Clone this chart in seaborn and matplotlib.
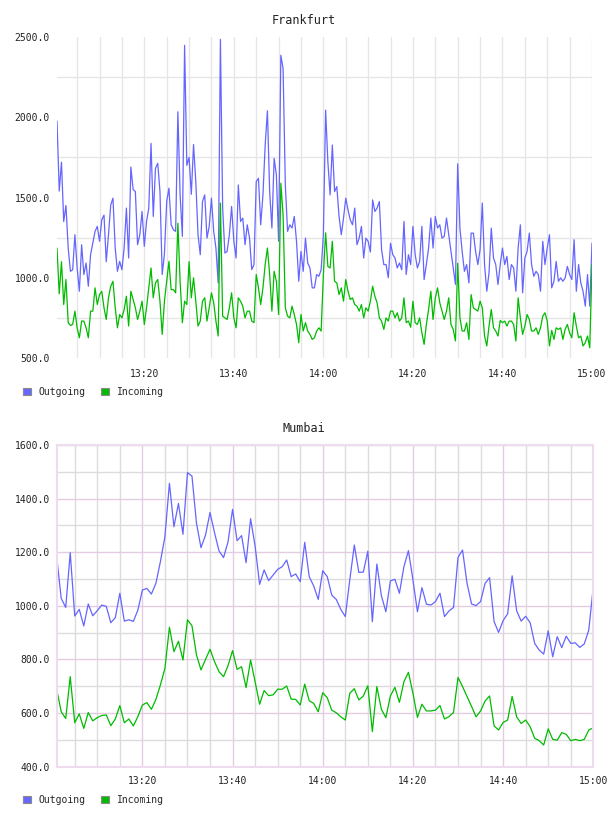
import pandas as pd
import seaborn as sns
import matplotlib.pyplot as plt
import matplotlib.dates as mdates
from matplotlib.ticker import MultipleLocator, FixedLocator, FormatStrFormatter
from matplotlib.patches import Patch

# Frankfurt: 30 s samples, 13:00:30 .. 15:00:00
fra_outgoing = [
    1976, 1540, 1720, 1350, 1450, 1185, 1040, 1050, 1268, 1061,
    916, 1206, 1020, 1092, 947, 1144, 1216, 1289, 1320, 1227,
    1361, 1390, 1100, 1268, 1454, 1496, 1185, 1040, 1102, 1050,
    1185, 1434, 1123, 1690, 1550, 1537, 1206, 1268, 1413, 1196,
    1351, 1434, 1837, 1382, 1682, 1713, 1537, 1020, 1150, 1475,
    1558, 1330, 1299, 1289, 2034, 1516, 1258, 2448, 1700, 1750,
    1520, 1830, 1599, 1268, 1144, 1475, 1516, 1247, 1320, 1496,
    1289, 1185, 968, 2485, 1434, 1154, 1164, 1268, 1444, 1227,
    1123, 1578, 1351, 1372, 1206, 1330, 1247, 1051, 1082, 1599,
    1620, 1330, 1516, 1827, 2040, 1537, 1310, 1744, 1641, 1227,
    2386, 2303, 1578, 1289, 1330, 1310, 1382, 1227, 978, 1164,
    1040, 1247, 1092, 1061, 937, 937, 1020, 1009, 1050, 1268,
    2044, 1723, 1516, 1827, 1537, 1568, 1382, 1268, 1372, 1496,
    1423, 1361, 1330, 1434, 1206, 1247, 1320, 1123, 1247, 1227,
    1160, 1485, 1413, 1434, 1475, 1175, 1082, 1082, 1000, 1215,
    1144, 1123, 1061, 1092, 1050, 1351, 1020, 1144, 1082, 1320,
    1144, 1061, 1102, 1320, 989, 1082, 1185, 1372, 1185, 1382,
    1310, 1330, 1247, 1258, 1372, 1268, 1164, 1061, 958, 1710,
    1309, 1164, 1040, 1082, 968, 1278, 1278, 1164, 1082, 1175,
    1465, 1082, 916, 1030, 1309, 1123, 1082, 958, 1082, 1185,
    1082, 1133, 989, 1082, 1061, 916, 1185, 1330, 906, 1123,
    1164, 1278, 1082, 1009, 1040, 1020, 916, 1227, 1082, 1185,
    1268, 937, 978, 1102, 978, 999, 978, 999, 1071, 1020,
    989, 1237, 916, 1082, 968, 916, 823, 1020, 823, 1216,
]
fra_incoming = [
    1185, 900, 1100, 833, 989, 720, 703, 709, 792, 688,
    626, 730, 730, 688, 626, 792, 792, 937, 833, 895,
    916, 813, 740, 875, 947, 978, 813, 688, 771, 750,
    802, 885, 699, 916, 864, 813, 740, 792, 854, 709,
    813, 937, 1061, 875, 968, 989, 854, 647, 854, 978,
    1102, 926, 926, 906, 1340, 978, 720, 854, 833, 1100,
    875, 1000, 854, 699, 730, 854, 875, 730, 813, 906,
    844, 730, 637, 1465, 760, 750, 740, 813, 906, 750,
    688, 875, 854, 823, 750, 792, 792, 730, 720, 1020,
    937, 833, 937, 1082, 1185, 1020, 792, 1040, 978, 771,
    1589, 1392, 813, 761, 750, 823, 771, 709, 595, 771,
    668, 720, 668, 647, 616, 626, 668, 688, 668, 1020,
    1280, 1071, 1061, 1227, 978, 968, 895, 937, 854, 989,
    916, 864, 875, 833, 823, 792, 833, 750, 813, 792,
    854, 947, 885, 844, 750, 730, 678, 750, 730, 792,
    792, 750, 782, 730, 750, 875, 720, 730, 692, 854,
    720, 709, 750, 657, 585, 709, 802, 916, 740, 875,
    937, 844, 792, 740, 792, 875, 709, 678, 606, 1090,
    750, 668, 668, 720, 616, 895, 813, 802, 792, 854,
    813, 637, 575, 699, 802, 688, 668, 637, 734, 720,
    730, 699, 730, 730, 709, 606, 875, 750, 647, 699,
    771, 740, 668, 668, 688, 647, 688, 761, 782, 730,
    575, 672, 616, 688, 678, 688, 616, 678, 709, 657,
    626, 782, 699, 626, 637, 575, 595, 637, 564, 1082,
]

# Mumbai: 1 min samples, 13:01 .. 15:00
mum_outgoing = [
    1183, 1028, 994, 1198, 962, 987, 925, 1007, 963, 982,
    1003, 998, 937, 956, 1047, 943, 948, 942, 984, 1059,
    1065, 1044, 1084, 1165, 1258, 1457, 1295, 1382, 1267, 1497,
    1484, 1308, 1217, 1264, 1348, 1273, 1205, 1180, 1239, 1360,
    1243, 1262, 1161, 1325, 1223, 1080, 1134, 1094, 1115, 1136,
    1146, 1171, 1109, 1119, 1090, 1237, 1109, 1074, 1024, 1131,
    1109, 1040, 1024, 987, 960, 1097, 1227, 1125, 1126, 1204,
    941, 1156, 1038, 978, 1093, 1099, 1047, 1146, 1206, 1097,
    978, 1068, 1006, 1003, 1016, 1047, 960, 981, 994, 1181,
    1208, 1084, 1007, 1001, 1016, 1084, 1105, 941, 901, 945,
    970, 1112, 982, 943, 961, 937, 860, 835, 820, 907,
    810, 885, 844, 887, 860, 862, 845, 858, 910, 1072,
]
mum_incoming = [
    689, 605, 580, 736, 564, 597, 543, 602, 571, 583,
    591, 593, 553, 578, 628, 564, 578, 552, 587, 630,
    639, 614, 651, 705, 767, 920, 829, 868, 798, 948,
    926, 817, 761, 800, 838, 792, 754, 736, 777, 833,
    763, 773, 695, 798, 717, 633, 684, 665, 668, 689,
    689, 701, 652, 651, 630, 708, 646, 636, 605, 676,
    657, 611, 601, 586, 574, 674, 691, 649, 664, 702,
    531, 699, 614, 583, 664, 696, 640, 717, 752, 674,
    584, 633, 608, 608, 611, 628, 578, 587, 602, 733,
    699, 662, 625, 586, 608, 645, 664, 552, 537, 565,
    574, 662, 586, 561, 574, 549, 506, 497, 481, 541,
    502, 499, 527, 521, 497, 502, 497, 502, 537, 545,
]

series_names = ["Outgoing", "Incoming"]
series_colors = ["#6565ff", "#00bb00"]
palette = dict(zip(series_names, series_colors))

W, H = 608, 816


def make_frame(start, freq, outgoing, incoming):
    times = pd.date_range(start, periods=len(outgoing), freq=freq)
    df = pd.DataFrame({"time": times, "Outgoing": outgoing, "Incoming": incoming})
    return df.melt("time", var_name="series", value_name="value")


def draw_lines(ax, df):
    sns.lineplot(data=df, x="time", y="value", hue="series", hue_order=series_names,
                 palette=palette, estimator=None, linewidth=0.9, legend=False, ax=ax)
    ax.set_xlim(df["time"].min(), df["time"].max())
    ax.set_xlabel("")
    ax.set_ylabel("")
    ax.set_axisbelow(True)
    ax.xaxis.set_major_locator(mdates.MinuteLocator(byminute=[0, 20, 40]))
    ax.xaxis.set_major_formatter(mdates.DateFormatter("%H:%M"))
    ax.xaxis.set_minor_locator(mdates.MinuteLocator(byminute=range(0, 60, 5)))
    ax.yaxis.set_major_formatter(FormatStrFormatter("%.1f"))
    ax.tick_params(which="both", length=0, labelsize=7, colors="#222222")
    ax.tick_params(axis="y", pad=5)


def add_legend(y_px):
    handles = [Patch(facecolor=c, edgecolor="#8a8a8a", linewidth=0.8, label=n)
               for n, c in zip(series_names, series_colors)]
    fig.legend(handles=handles, loc="center left", bbox_to_anchor=(23 / W, 1 - y_px / H),
               ncol=2, frameon=False, fontsize=7, handlelength=0.8, handleheight=0.8,
               handletextpad=0.8, columnspacing=1.6, borderpad=0, borderaxespad=0)


sns.set_style("white")
plt.rcParams["font.family"] = ["DejaVu Sans Mono", "DejaVu Sans"]

fig = plt.figure(figsize=(W / 100, H / 100), dpi=100)

# Frankfurt panel
ax1 = fig.add_axes([57 / W, 1 - 358 / H, 535 / W, 321 / H])
draw_lines(ax1, make_frame("2024-01-01 13:00:30", "30s", fra_outgoing, fra_incoming))
ax1.set_ylim(500, 2500)
ax1.yaxis.set_major_locator(MultipleLocator(500))
ax1.yaxis.set_minor_locator(FixedLocator([750, 1250, 1750, 2250]))
ax1.grid(which="minor", axis="y", color="#e6e6e6", linewidth=1)
ax1.grid(which="both", axis="x", color="#e6e6e6", linewidth=1)
ax1.tick_params(axis="x", pad=8)
for s in ax1.spines.values():
    s.set_visible(False)
fig.text(0.5, 1 - 20 / H, "Frankfurt", ha="center", va="center", fontsize=8.5, color="#222222")
add_legend(392)

# Mumbai panel
ax2 = fig.add_axes([56.7 / W, 1 - 766.7 / H, 536.6 / W, 321.7 / H])
draw_lines(ax2, make_frame("2024-01-01 13:01:00", "1min", mum_outgoing, mum_incoming))
ax2.set_ylim(400, 1600)
ax2.yaxis.set_major_locator(MultipleLocator(200))
ax2.yaxis.set_minor_locator(MultipleLocator(100))
ax2.grid(which="major", color="#e3cce3", linewidth=1)
ax2.grid(which="minor", color="#dcdcdc", linewidth=1)
ax2.tick_params(axis="x", pad=7)
for s in ax2.spines.values():
    s.set_visible(True)
    s.set_color("#eedcee")
    s.set_linewidth(1.5)
fig.text(0.5, 1 - 428 / H, "Mumbai", ha="center", va="center", fontsize=8.5, color="#222222")
add_legend(800)

fig.savefig("out.png", dpi=100)
